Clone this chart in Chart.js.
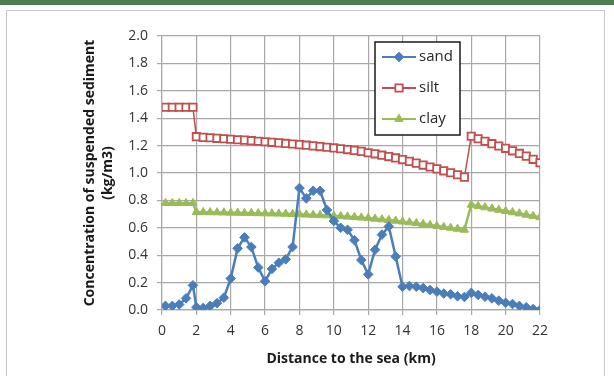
<!DOCTYPE html>
<html>
<head>
<meta charset="utf-8">
<script src="https://cdn.jsdelivr.net/npm/chart.js@4.4.0/dist/chart.umd.min.js"></script>
<style>
html, body { margin: 0; padding: 0; background: #fff; }
#wrap { position: relative; width: 614px; height: 376px; overflow: hidden; }
#topbar { position: absolute; left: 0; top: 0; width: 614px; height: 5px; background: #4f7d52; }
#frame { position: absolute; left: 6px; top: 10px; width: 597px; height: 380px; border: 1px solid #c8c8c8; }
canvas { position: absolute; left: 0; top: 0; }
</style>
</head>
<body>
<div id="wrap">
  <div id="topbar"></div>
  <div id="frame"></div>
  <canvas id="myChart" width="614" height="376"></canvas>
</div>
<script>
// distance to the sea (km)
var distance = [0.2, 0.6, 1.0, 1.4, 1.8,
  2.0, 2.4, 2.8, 3.2, 3.6, 4.0, 4.4, 4.8, 5.2, 5.6, 6.0, 6.4, 6.8, 7.2, 7.6,
  8.0, 8.4, 8.8, 9.2, 9.6, 10.0, 10.4, 10.8, 11.2, 11.6, 12.0, 12.4, 12.8, 13.2, 13.6,
  14.0, 14.4, 14.8, 15.2, 15.6, 16.0, 16.4, 16.8, 17.2, 17.6,
  18.0, 18.4, 18.8, 19.2, 19.6, 20.0, 20.4, 20.8, 21.2, 21.6, 22.0];

var sand = [0.03, 0.03, 0.04, 0.085, 0.18,
  0.02, 0.015, 0.03, 0.05, 0.09, 0.23, 0.45, 0.53, 0.46, 0.31, 0.21, 0.30, 0.345, 0.37, 0.46,
  0.89, 0.815, 0.87, 0.87, 0.73, 0.65, 0.60, 0.585, 0.51, 0.365, 0.26, 0.44, 0.55, 0.61, 0.39,
  0.17, 0.175, 0.17, 0.16, 0.146, 0.134, 0.12, 0.115, 0.10, 0.095,
  0.125, 0.11, 0.097, 0.085, 0.068, 0.053, 0.044, 0.03, 0.02, 0.007, 0.0];

var silt = [1.48, 1.48, 1.48, 1.48, 1.48,
  1.265, 1.26, 1.257, 1.253, 1.25, 1.246, 1.243, 1.24, 1.236, 1.232, 1.228, 1.224, 1.22, 1.216, 1.212,
  1.207, 1.203, 1.198, 1.193, 1.188, 1.183, 1.177, 1.171, 1.165, 1.158, 1.148, 1.14, 1.13, 1.12, 1.11,
  1.098, 1.085, 1.072, 1.058, 1.044, 1.03, 1.016, 1.002, 0.987, 0.97,
  1.268, 1.25, 1.232, 1.214, 1.197, 1.18, 1.162, 1.143, 1.123, 1.1, 1.075];

var clay = [0.78, 0.78, 0.78, 0.78, 0.78,
  0.715, 0.714, 0.713, 0.712, 0.711, 0.71, 0.709, 0.708, 0.707, 0.706, 0.705, 0.704, 0.703, 0.702, 0.70,
  0.698, 0.696, 0.694, 0.692, 0.69, 0.687, 0.684, 0.681, 0.678, 0.674, 0.67, 0.666, 0.661, 0.656, 0.651,
  0.645, 0.639, 0.633, 0.627, 0.62, 0.613, 0.606, 0.599, 0.592, 0.585,
  0.768, 0.758, 0.749, 0.74, 0.731, 0.722, 0.713, 0.704, 0.695, 0.686, 0.677];

function pts(vals) {
  return distance.map(function (d, i) { return { x: d, y: vals[i] }; });
}

var FONT = '"Open Sans", "Liberation Sans", sans-serif';

// legend drawn as a boxed panel inside the plot, like the Excel original
var legendBox = {
  id: 'legendBox',
  afterDraw: function (chart) {
    var ctx = chart.ctx;
    ctx.save();
    ctx.fillStyle = '#fff';
    ctx.fillRect(375, 42, 85, 93);
    ctx.strokeStyle = '#1a1a1a';
    ctx.lineWidth = 1.5;
    ctx.strokeRect(375, 42, 85, 93);
    chart.data.datasets.forEach(function (ds, i) {
      var y = 57 + i * 31;
      ctx.strokeStyle = ds.borderColor;
      ctx.lineWidth = 2;
      ctx.beginPath();
      ctx.moveTo(382, y);
      ctx.lineTo(416, y);
      ctx.stroke();
      ctx.fillStyle = ds.pointBackgroundColor;
      ctx.strokeStyle = ds.pointBorderColor;
      ctx.lineWidth = ds.pointBorderWidth;
      Chart.helpers.drawPoint(ctx, {
        pointStyle: ds.pointStyle, radius: ds.pointRadius, rotation: 0, borderWidth: ds.pointBorderWidth
      }, 399, y);
      ctx.fillStyle = '#262626';
      ctx.font = '15px ' + FONT;
      ctx.textBaseline = 'middle';
      ctx.textAlign = 'left';
      ctx.fillText(ds.label, 419, y);
    });
    ctx.restore();
  }
};

var chart = new Chart(document.getElementById('myChart').getContext('2d'), {
  type: 'line',
  data: {
    datasets: [
      {
        label: 'sand',
        data: pts(sand),
        borderColor: '#4a7ebb',
        borderWidth: 2.5,
        pointStyle: 'rectRot',
        pointRadius: 4.8,
        pointBackgroundColor: '#4a7ebb',
        pointBorderColor: '#4a7ebb',
        pointBorderWidth: 1,
        tension: 0
      },
      {
        label: 'silt',
        data: pts(silt),
        borderColor: '#c0504d',
        borderWidth: 1.5,
        pointStyle: 'rect',
        pointRadius: 5.2,
        pointBackgroundColor: '#ffffff',
        pointBorderColor: '#c0504d',
        pointBorderWidth: 1.8,
        tension: 0
      },
      {
        label: 'clay',
        data: pts(clay),
        borderColor: '#9bbb59',
        borderWidth: 2.5,
        pointStyle: 'triangle',
        pointRadius: 4.8,
        pointBackgroundColor: '#9bbb59',
        pointBorderColor: '#9bbb59',
        pointBorderWidth: 1,
        tension: 0
      }
    ]
  },
  options: {
    responsive: false,
    animation: false,
    layout: { padding: { left: 0, top: 36, right: 74, bottom: 0 } },
    plugins: {
      legend: { display: false },
      tooltip: { enabled: false }
    },
    scales: {
      x: {
        type: 'linear',
        min: 0,
        max: 22,
        ticks: { stepSize: 2, color: '#333', font: { family: FONT, size: 14 }, padding: 8, maxRotation: 0 },
        grid: { color: '#a8a8a8', lineWidth: 1.2, tickLength: 5 },
        border: { color: '#a8a8a8', width: 1.2 },
        title: {
          display: true,
          text: 'Distance to the sea (km)',
          color: '#1a1a1a',
          font: { family: FONT, size: 14, weight: 'bold' },
          padding: { top: 0, bottom: 9 }
        },
        afterFit: function (s) { s.height = 66; }
      },
      y: {
        min: 0,
        max: 2,
        ticks: {
          stepSize: 0.2,
          color: '#333',
          font: { family: FONT, size: 14 },
          padding: 9,
          callback: function (v) { return v.toFixed(1); }
        },
        grid: { color: '#a8a8a8', lineWidth: 1.2, tickLength: 5 },
        border: { color: '#a8a8a8', width: 1.2 },
        title: {
          display: true,
          text: ['Concentration of suspended sediment', '(kg/m3)'],
          color: '#1a1a1a',
          font: { family: FONT, size: 14, weight: 'bold', lineHeight: 1.3 },
          padding: { top: 81, bottom: 0 }
        },
        afterFit: function (s) { s.width = 162; }
      }
    }
  },
  plugins: [legendBox]
});
</script>
</body>
</html>
